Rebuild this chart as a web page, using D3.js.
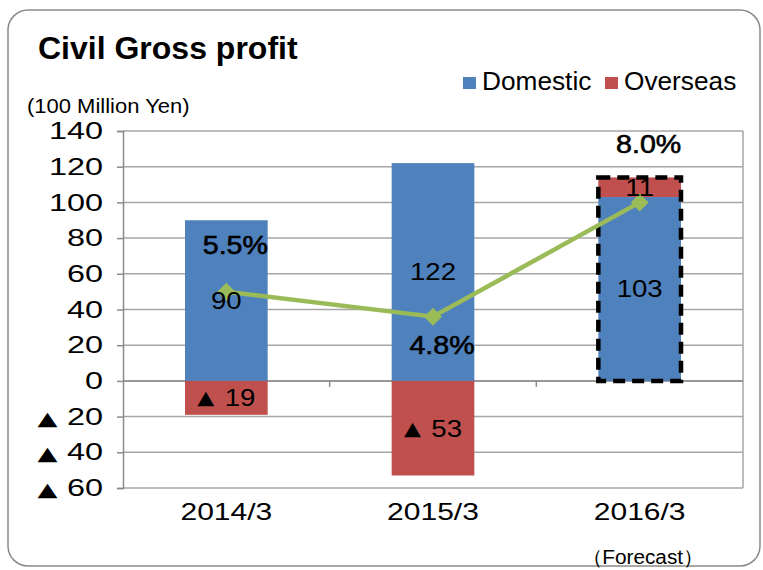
<!DOCTYPE html>
<html>
<head>
<meta charset="utf-8">
<script src="https://cdn.jsdelivr.net/npm/d3@7"></script>
<style>
  body { margin: 0; background: #fff; }
  svg { display: block; font-family: "Liberation Sans", Arial, sans-serif; }
</style>
</head>
<body>
<svg width="763" height="570"></svg>
<script>
const svg = d3.select("svg");
const width = +svg.attr("width");
const height = +svg.attr("height");

// data
const categories = ["2014/3", "2015/3", "2016/3"];
const domestic = [90, 122, 103];
const overseas = [-19, -53, 11];
const margin = [5.5, 4.8, 8.0];
const marginLabels = ["5.5%", "4.8%", "8.0%"];
const yTicks = [-60, -40, -20, 0, 20, 40, 60, 80, 100, 120, 140];
const forecastIndex = 2;

const blue = "#4F81BD";
const red = "#C0504D";
const green = "#9BBB59";
const gridColor = "#A6A6A6";
const axisColor = "#8C8C8C";

const plotLeft = 123, plotRight = 743, plotTop = 131, plotBottom = 488;

// the source font is wide, so widen text around its anchor
function stretch(sel, sx) {
  sel.attr("transform", function () {
    const tx = +this.getAttribute("x") || 0;
    return `translate(${tx},0) scale(${sx},1) translate(${-tx},0)`;
  });
}

// negative numbers are written with a triangle (Japanese style)
function triNumber(sel, v, gap) {
  sel.text(null);
  if (v < 0) {
    sel.append("tspan").attr("font-family", "\"DejaVu Sans\", sans-serif").attr("font-size", "0.8em").text("\u25B2");
    sel.append("tspan").attr("dx", gap).text(-v);
  } else {
    sel.append("tspan").text(v);
  }
}

// frame
svg.append("rect")
  .attr("x", 8).attr("y", 10)
  .attr("width", 752).attr("height", 556)
  .attr("rx", 20)
  .attr("fill", "none")
  .attr("stroke", "#8a8a8a")
  .attr("stroke-width", 1.5);

// title
svg.append("text")
  .attr("x", 38).attr("y", 59)
  .attr("font-size", 32).attr("font-weight", "bold")
  .text("Civil Gross profit");

svg.append("text")
  .attr("x", 27).attr("y", 113)
  .attr("font-size", 20)
  .text("(100 Million Yen)")
  .call(stretch, 1.1);

// legend
const legend = svg.append("g").attr("font-size", 25);
[["Domestic", blue, 463], ["Overseas", red, 605]].forEach(([name, col, lx]) => {
  legend.append("rect").attr("x", lx).attr("y", 77).attr("width", 13).attr("height", 12).attr("fill", col);
  legend.append("text").attr("x", lx + 19).attr("y", 90).text(name).call(stretch, 1.05);
});

// scales
const y = d3.scaleLinear().domain([-60, 140]).range([plotBottom, plotTop]);
const yPct = d3.scaleLinear().domain([0, 10]).range([plotBottom, plotTop]);
const x = d3.scaleBand().domain(categories).range([plotLeft, plotRight]).padding(0);
const barW = x.bandwidth() * 0.4;
const cx = d => x(d) + x.bandwidth() / 2;

// gridlines
svg.append("g")
  .selectAll("line")
  .data(yTicks)
  .join("line")
  .attr("x1", plotLeft).attr("x2", plotRight)
  .attr("y1", d => y(d)).attr("y2", d => y(d))
  .attr("stroke", gridColor).attr("stroke-width", 1.5);

// right plot border
svg.append("line")
  .attr("x1", plotRight).attr("x2", plotRight)
  .attr("y1", plotTop).attr("y2", plotBottom)
  .attr("stroke", gridColor).attr("stroke-width", 1.5);

// y axis
const yAxis = svg.append("g")
  .attr("transform", `translate(${plotLeft},0)`)
  .call(d3.axisLeft(y).tickValues(yTicks).tickSize(6).tickPadding(14));
yAxis.select(".domain").attr("stroke", axisColor).attr("stroke-width", 1.5);
yAxis.selectAll(".tick line").attr("stroke", axisColor).attr("stroke-width", 1.5);
yAxis.selectAll(".tick text")
  .attr("font-size", 24).attr("fill", "#000")
  .attr("font-family", "\"Liberation Sans\", Arial, sans-serif")
  .each(function (d) { d3.select(this).call(triNumber, d, 7); })
  .call(stretch, 1.35);

// category axis at zero
svg.append("line")
  .attr("x1", plotLeft).attr("x2", plotRight)
  .attr("y1", y(0)).attr("y2", y(0))
  .attr("stroke", axisColor).attr("stroke-width", 1.5);
svg.append("g")
  .selectAll("line")
  .data(categories.slice(1))
  .join("line")
  .attr("x1", d => x(d)).attr("x2", d => x(d))
  .attr("y1", y(0)).attr("y2", y(0) + 6)
  .attr("stroke", axisColor).attr("stroke-width", 1.5);

svg.append("g")
  .selectAll("text")
  .data(categories)
  .join("text")
  .attr("x", d => cx(d)).attr("y", 520)
  .attr("text-anchor", "middle")
  .attr("font-size", 24)
  .text(d => d)
  .call(stretch, 1.25);

svg.append("text")
  .attr("x", cx(categories[forecastIndex]) + 3).attr("y", 564)
  .attr("text-anchor", "middle")
  .attr("font-size", 20)
  .text("\uFF08Forecast\uFF09")
  .call(stretch, 1.04);

// bars
const rows = categories.map((c, i) => ({ c, dom: domestic[i], ov: overseas[i] }));
const bars = svg.append("g");
bars.selectAll(".dom")
  .data(rows)
  .join("rect")
  .attr("class", "dom")
  .attr("x", d => cx(d.c) - barW / 2).attr("width", barW)
  .attr("y", d => y(d.dom)).attr("height", d => y(0) - y(d.dom))
  .attr("fill", blue);
bars.selectAll(".ov")
  .data(rows)
  .join("rect")
  .attr("class", "ov")
  .attr("x", d => cx(d.c) - barW / 2).attr("width", barW)
  .attr("y", d => d.ov < 0 ? y(0) : y(d.dom + d.ov))
  .attr("height", d => d.ov < 0 ? y(d.ov) - y(0) : y(d.dom) - y(d.dom + d.ov))
  .attr("fill", red);

// forecast dashed outline
const f = rows[forecastIndex];
svg.append("rect")
  .attr("x", cx(f.c) - barW / 2).attr("width", barW)
  .attr("y", y(f.dom + Math.max(f.ov, 0)))
  .attr("height", y(0) - y(f.dom + Math.max(f.ov, 0)))
  .attr("fill", "none")
  .attr("stroke", "#000").attr("stroke-width", 4.5)
  .attr("stroke-dasharray", "12,7");

// margin line
const pts = categories.map((c, i) => [cx(c), yPct(margin[i])]);
svg.append("path")
  .attr("d", d3.line()(pts))
  .attr("fill", "none")
  .attr("stroke", green).attr("stroke-width", 4.5)
  .attr("stroke-linejoin", "round");
svg.append("g")
  .selectAll("path")
  .data(pts)
  .join("path")
  .attr("transform", d => `translate(${d[0]},${d[1]})`)
  .attr("d", "M0,-9L9,0L0,9L-9,0Z")
  .attr("fill", green);

// value labels
const labels = svg.append("g").attr("font-size", 24).attr("text-anchor", "middle");
rows.forEach(d => {
  labels.append("text")
    .attr("x", cx(d.c)).attr("y", y(d.dom / 2))
    .attr("dominant-baseline", "central")
    .text(d.dom);
  const mid = d.ov < 0 ? d.ov / 2 : d.dom + d.ov / 2;
  labels.append("text")
    .attr("x", cx(d.c)).attr("y", y(mid))
    .attr("dominant-baseline", "central")
    .call(triNumber, d.ov, 9);
});
labels.selectAll("text").call(stretch, 1.15);

// margin labels
const pctDy = [-38, 37, -49];
svg.append("g")
  .selectAll("text")
  .data(pts)
  .join("text")
  .attr("x", d => d[0] + 9).attr("y", (d, i) => d[1] + pctDy[i])
  .attr("text-anchor", "middle")
  .attr("font-size", 26)
  .attr("stroke", "#000").attr("stroke-width", 0.6)
  .text((d, i) => marginLabels[i])
  .call(stretch, 1.1);
</script>
</body>
</html>
